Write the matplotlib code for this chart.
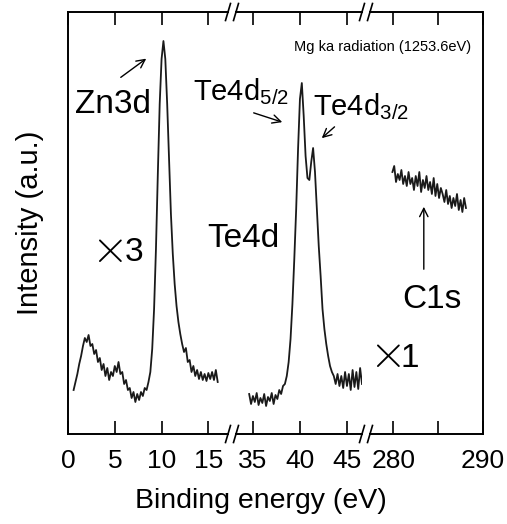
import numpy as np
import matplotlib
matplotlib.use("Agg")
import matplotlib.pyplot as plt

plt.rcParams['font.family'] = ['Liberation Sans', 'DejaVu Sans']
plt.rcParams['mathtext.fontset'] = 'custom'
plt.rcParams['mathtext.rm'] = 'Liberation Sans'
plt.rcParams['mathtext.it'] = 'Liberation Sans'

# energy grid: start (eV) and step (eV) for each window
step = 0.2
zn_start = 0.6
te_start = 34.6
c_start = 279.9

# Zn3d / valence band window (x3)
zn_counts = [44, 52, 60, 70, 78, 88, 96, 92, 99, 88, 90, 80, 84, 72, 76, 64, 70, 58, 66, 54,
             62, 58, 68, 62, 72, 60, 62, 50, 54, 44, 46, 36, 42, 32, 40, 34, 42, 38, 46, 44,
             52, 62, 85, 125, 185, 260, 330, 375, 393, 375, 330, 275, 220, 180, 150, 128, 112, 100,
             90, 82, 86, 72, 74, 62, 68, 58, 64, 55, 62, 54, 60, 53, 61, 55, 62, 54, 64, 52]

# Te4d window
te_counts = [40, 30, 38, 32, 41, 29, 36, 31, 40, 28, 37, 33, 41, 30, 39, 35, 44, 40, 48, 50,
             58, 72, 95, 130, 175, 225, 285, 335, 351, 318, 278, 256, 254, 272, 286, 262, 225, 188,
             158, 125, 105, 90, 78, 68, 62, 58, 50, 60, 48, 58, 46, 62, 48, 60, 44, 64, 47, 62,
             45, 66, 50]

# C1s window (x1)
c_counts = [262, 268, 252, 260, 254, 264, 250, 258, 248, 262, 250, 256, 244, 258, 248, 262,
            242, 254, 246, 258, 244, 252, 240, 256, 238, 250, 236, 246, 240, 232, 244, 230,
            238, 226, 236, 228, 240, 224, 234, 222, 236, 226]

segments = [
    (zn_start, zn_counts, (0, 17.1), [0, 5, 10, 15], ['0', '5', '10', '15']),
    (te_start, te_counts, (33.2, 46.6), [35, 40, 45], ['35', '40', '45']),
    (c_start, c_counts, (277.4, 290), [280, 285, 290], ['280', '', '290']),
]

W, H = 507, 524
fig = plt.figure(figsize=(W / 100, H / 100), dpi=100)

# axes boxes in pixels (left, right)
boxes = [(68, 228), (236, 362), (370, 483)]
top, bottom = 12, 434

axes = []
for (l, r), (start, counts, xlim, ticks, labels) in zip(boxes, segments):
    ax = fig.add_axes([l / W, 1 - bottom / H, (r - l) / W, (bottom - top) / H])
    ax.set_facecolor('none')
    e = start + step * np.arange(len(counts))
    ax.plot(e, counts, color='#1a1a1a', lw=1.3)
    ax.set_xlim(*xlim)
    ax.set_ylim(0, 422)
    ax.set_yticks([])
    ax.set_xticks(ticks)
    ax.set_xticklabels(labels)
    ax.tick_params(axis='x', direction='in', length=9.5, width=1.2, top=True,
                   labelsize=19, pad=11)
    for s in ax.spines.values():
        s.set_linewidth(1.4)
    axes.append(ax)

ax1, ax2, ax3 = axes
ax1.spines['right'].set_visible(False)
ax2.spines['left'].set_visible(False)
ax2.spines['right'].set_visible(False)
ax3.spines['left'].set_visible(False)


def break_marks(ax, x):
    bb = ax.get_position()
    dx = 2.5 / (bb.width * W)
    dy = 8.5 / (bb.height * H)
    for y in (0, 1):
        ax.plot([x - dx, x + dx], [y - dy, y + dy], transform=ax.transAxes,
                color='k', lw=1.2, clip_on=False)


break_marks(ax1, 1)
break_marks(ax2, 0)
break_marks(ax2, 1)
break_marks(ax3, 0)

ax1.set_ylabel('Intensity (a.u.)', fontsize=21, labelpad=17)
fig.text(261 / W, 1 - 508 / H, 'Binding energy (eV)', fontsize=20.5,
         ha='center', va='baseline')

arrow = dict(arrowstyle='->', color='k', lw=1.0, mutation_scale=15)

ax1.text(0.75, 321, 'Zn3d', fontsize=24, ha='left', va='baseline')
ax1.annotate('', xy=(8.6, 377), xytext=(5.4, 355), arrowprops=arrow)
ax1.text(4.2, 184, r'$\times$', fontsize=34, math_fontfamily='cm', ha='center', va='center')
ax1.text(6.1, 173, '3', fontsize=24, ha='left', va='baseline')

ax2.text(28.6, 334, r'Te4d$_{\mathrm{5/2}}$', fontsize=21, ha='left', va='baseline')
ax2.annotate('', xy=(38.4, 311), xytext=(34.8, 322), arrowprops=arrow)
ax2.text(41.4, 319, r'Te4d$_{\mathrm{3/2}}$', fontsize=21, ha='left', va='baseline')
ax2.annotate('', xy=(42.1, 294), xytext=(43.9, 309), arrowprops=arrow)
ax2.text(30.1, 187, 'Te4d', fontsize=24, ha='left', va='baseline')

ax3.text(288.7, 387, 'Mg ka radiation (1253.6eV)', fontsize=10.5, ha='right', va='center')
ax3.text(281.0, 126, 'C1s', fontsize=24, ha='left', va='baseline')
ax3.annotate('', xy=(283.4, 230), xytext=(283.4, 162), arrowprops=arrow)
ax3.text(279.1, 79, r'$\times$', fontsize=34, math_fontfamily='cm', ha='center', va='center')
ax3.text(280.8, 67, '1', fontsize=24, ha='left', va='baseline')

fig.savefig('out.png', dpi=100)
